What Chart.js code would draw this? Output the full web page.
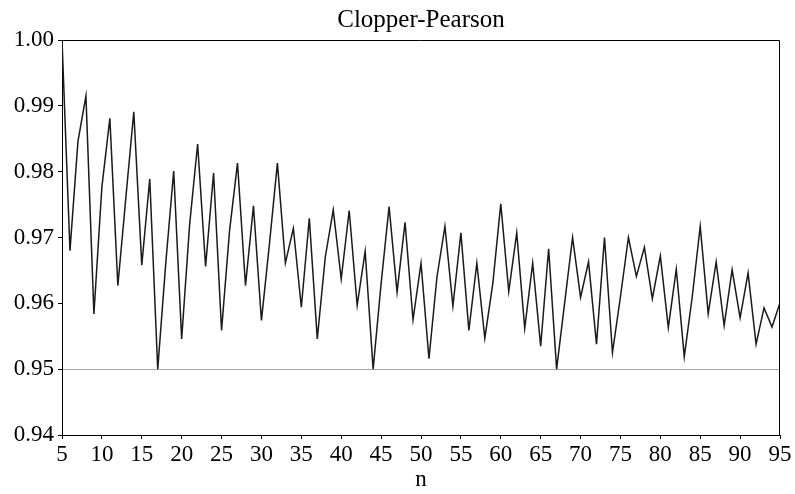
<!DOCTYPE html>
<html>
<head>
<meta charset="utf-8">
<script src="https://cdn.jsdelivr.net/npm/chart.js@4/dist/chart.umd.min.js"></script>
<style>
  html, body { margin: 0; padding: 0; background: #ffffff; }
  #wrap { width: 795px; height: 494px; }
</style>
</head>
<body>
<div id="wrap"><canvas id="c" width="795" height="494"></canvas></div>
<script>
// Sample sizes n = 5 .. 95
const sampleSizes = [];
for (let n = 5; n <= 95; n++) sampleSizes.push(n);

// Coverage probability of the Clopper-Pearson interval for each n
const coverage = [
  1.0000, 0.9680, 0.9846, 0.9915, 0.9584, 0.9777, 0.9881, 0.9627, 0.9760, 0.9891, // 5-14
  0.9658, 0.9789, 0.9500, 0.9660, 0.9801, 0.9546, 0.9720, 0.9842, 0.9656, 0.9798, // 15-24
  0.9559, 0.9710, 0.9813, 0.9627, 0.9748, 0.9574, 0.9690, 0.9813, 0.9661, 0.9714, // 25-34
  0.9594, 0.9729, 0.9546, 0.9670, 0.9742, 0.9637, 0.9741, 0.9597, 0.9679, 0.9500, // 35-44
  0.9630, 0.9747, 0.9617, 0.9723, 0.9575, 0.9661, 0.9516, 0.9640, 0.9717, 0.9596, // 45-54
  0.9707, 0.9559, 0.9661, 0.9547, 0.9630, 0.9751, 0.9618, 0.9707, 0.9562, 0.9661, // 55-64
  0.9535, 0.9683, 0.9500, 0.9600, 0.9700, 0.9609, 0.9663, 0.9538, 0.9700, 0.9525, // 65-74
  0.9610, 0.9700, 0.9641, 0.9685, 0.9607, 0.9672, 0.9563, 0.9652, 0.9519, 0.9610, // 75-84
  0.9717, 0.9584, 0.9663, 0.9566, 0.9651, 0.9578, 0.9646, 0.9538, 0.9593, 0.9564, // 85-94
  0.9601                                                                          // 95
];

// Axis settings
const xTicks = { min: 5, max: 95, step: 5 };
const yTicks = { min: 0.94, max: 1.00, step: 0.01 };
const nominalLevel = 0.95;

const chartTitle = 'Clopper-Pearson';
const xAxisTitle = 'n';

const serif = "'Liberation Serif', 'Times New Roman', serif";

const points = sampleSizes.map((n, i) => ({ x: n, y: coverage[i] }));

// Closes the plot frame on the top and right sides and writes the
// title centred over the plotting area
const framePlugin = {
  id: 'frame',
  afterDraw(chart) {
    const { ctx, chartArea: a } = chart;
    ctx.save();
    ctx.strokeStyle = '#000000';
    ctx.lineWidth = 1;
    ctx.beginPath();
    ctx.moveTo(a.left, a.top + 0.5);
    ctx.lineTo(a.right - 0.5, a.top + 0.5);
    ctx.lineTo(a.right - 0.5, a.bottom);
    ctx.stroke();

    ctx.fillStyle = '#000000';
    ctx.font = '25px ' + serif;
    ctx.textAlign = 'center';
    ctx.textBaseline = 'alphabetic';
    ctx.fillText(chartTitle, (a.left + a.right) / 2, a.top - 13);
    ctx.restore();
  }
};

new Chart(document.getElementById('c'), {
  type: 'line',
  data: {
    datasets: [{
      data: points,
      borderColor: '#1a1a1a',
      borderWidth: 1.5,
      pointRadius: 0,
      tension: 0,
      fill: false
    }]
  },
  options: {
    responsive: false,
    animation: false,
    events: [],
    layout: { padding: { left: 0, right: 15, top: 40, bottom: 0 } },
    plugins: {
      legend: { display: false },
      tooltip: { enabled: false },
      title: { display: false }
    },
    scales: {
      x: {
        type: 'linear',
        min: xTicks.min,
        max: xTicks.max,
        afterFit: (s) => { s.height = 59; },
        ticks: {
          stepSize: xTicks.step,
          color: '#000000',
          padding: 2,
          maxRotation: 0,
          autoSkip: false,
          font: { family: serif, size: 23 }
        },
        grid: {
          drawOnChartArea: false,
          drawTicks: true,
          tickLength: 4,
          color: '#000000'
        },
        border: { display: true, color: '#000000', width: 1 },
        title: {
          display: true,
          text: xAxisTitle,
          color: '#000000',
          font: { family: serif, size: 23 },
          padding: { top: 0, bottom: 0 }
        }
      },
      y: {
        min: yTicks.min,
        max: yTicks.max,
        afterFit: (s) => { s.width = 62; },
        ticks: {
          stepSize: yTicks.step,
          color: '#000000',
          padding: 4,
          font: { family: serif, size: 23 },
          callback: (v) => Number(v).toFixed(2)
        },
        grid: {
          drawOnChartArea: true,
          drawTicks: true,
          tickLength: 4,
          color: (c) => (c.tick && Math.abs(c.tick.value - nominalLevel) < 1e-6) ? '#a6a6a6' : 'rgba(0,0,0,0)',
          tickColor: '#000000'
        },
        border: { display: true, color: '#000000', width: 1 }
      }
    }
  },
  plugins: [framePlugin]
});
</script>
</body>
</html>
